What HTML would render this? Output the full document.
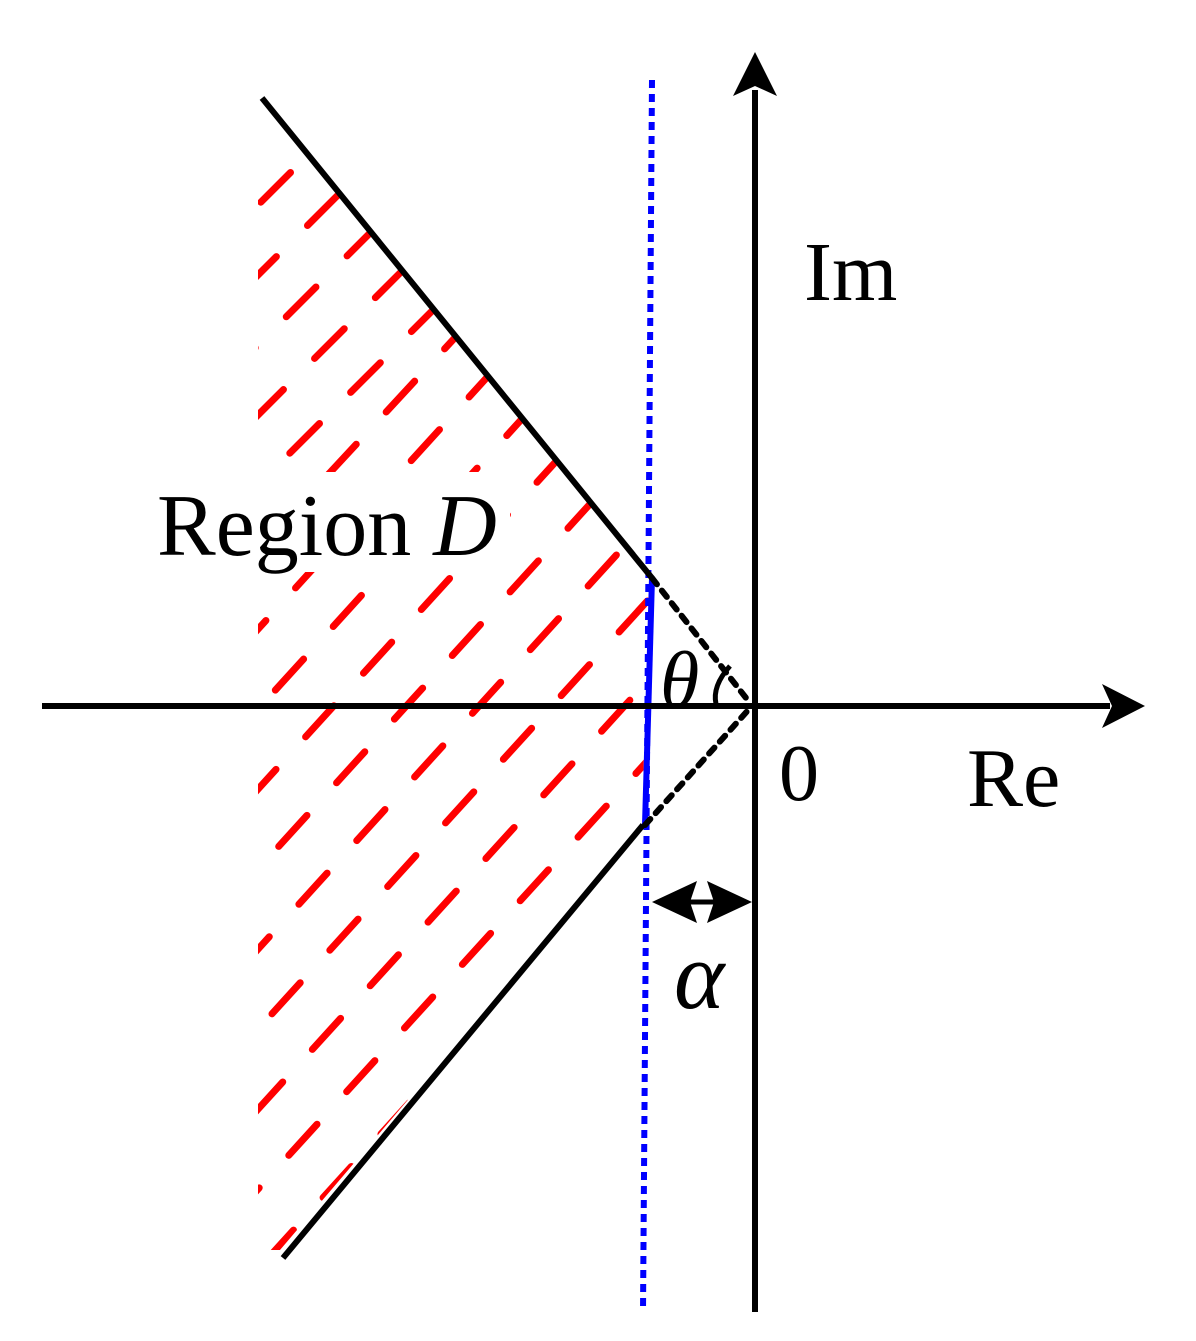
<!DOCTYPE html>
<html><head><meta charset="utf-8"><style>
html,body{margin:0;padding:0;background:#fff;width:1196px;height:1341px;overflow:hidden;}
svg{display:block;overflow:hidden;}
text{font-family:"Liberation Serif","Times New Roman","DejaVu Serif",serif;fill:#000;}
</style></head><body>
<svg width="1196" height="1341" viewBox="0 0 1196 1341" xmlns="http://www.w3.org/2000/svg">
<defs>
<clipPath id="reg">
<polygon points="258,60 262,98 649,578 642,825 280,1250 258,1250"/>
</clipPath>
</defs>
<g clip-path="url(#reg)" stroke="#f00" stroke-width="7" stroke-linecap="round" stroke-dasharray="42 44">
<line x1="200" y1="263" x2="420" y2="43"/>
<line x1="200" y1="333" x2="480" y2="53" stroke-dashoffset="20"/>
<line x1="200" y1="403" x2="540" y2="63" stroke-dashoffset="50"/>
<line x1="200" y1="473" x2="600" y2="73" stroke-dashoffset="10"/>
<line x1="200" y1="543" x2="660" y2="83" stroke-dashoffset="45"/>
<line x1="200" y1="613" x2="700" y2="73" stroke-dashoffset="70"/>
<line x1="200" y1="693" x2="700" y2="143" stroke-dashoffset="30"/>
<line x1="200" y1="773" x2="700" y2="223" stroke-dashoffset="60"/>
<line x1="200" y1="853" x2="700" y2="303" stroke-dashoffset="15"/>
<line x1="200" y1="933" x2="700" y2="383" stroke-dashoffset="55"/>
<line x1="200" y1="1013" x2="700" y2="463" stroke-dashoffset="25"/>
<line x1="200" y1="1093" x2="700" y2="543" stroke-dashoffset="65"/>
<line x1="200" y1="1173" x2="700" y2="623" stroke-dashoffset="5"/>
<line x1="200" y1="1253" x2="700" y2="703" stroke-dashoffset="40"/>
<line x1="200" y1="1333" x2="700" y2="783" stroke-dashoffset="75"/>
<line x1="265" y1="1341" x2="700" y2="863" stroke-dashoffset="20"/>
</g>
<rect x="150" y="472" width="360" height="100" fill="#fff"/>
<line x1="652" y1="80" x2="643" y2="1312" stroke="#00f" stroke-width="6" stroke-dasharray="8 6"/>
<line x1="652" y1="578" x2="645" y2="825" stroke="#00f" stroke-width="6"/>
<line x1="262" y1="98" x2="652" y2="578" stroke="#000" stroke-width="6"/>
<line x1="283" y1="1258" x2="643" y2="825" stroke="#000" stroke-width="6"/>
<line x1="652" y1="578" x2="750" y2="703" stroke="#000" stroke-width="6" stroke-dasharray="8 8" stroke-linecap="round"/>
<line x1="645" y1="825" x2="750" y2="708" stroke="#000" stroke-width="6" stroke-dasharray="8 8" stroke-linecap="round"/>
<line x1="42" y1="706" x2="1110" y2="706" stroke="#000" stroke-width="6"/>
<polygon points="1145,706 1102,684 1112,706 1102,728" fill="#000"/>
<line x1="755" y1="90" x2="755" y2="1312" stroke="#000" stroke-width="6"/>
<polygon points="755,52 733,96 755,86 777,96" fill="#000"/>
<line x1="680" y1="902" x2="725" y2="902" stroke="#000" stroke-width="5"/>
<polygon points="652,902 697,881 690,902 697,923" fill="#000"/>
<polygon points="752,902 707,881 714,902 707,923" fill="#000"/>
<path d="M730,666 Q712,686 716,704" fill="none" stroke="#000" stroke-width="5"/>
<text x="804" y="300" font-size="84">Im</text>
<text x="157" y="555" font-size="88">Region <tspan font-style="italic">D</tspan></text>
<text x="779" y="800" font-size="80">0</text>
<text x="967" y="806" font-size="84">Re</text>
<text x="660" y="707" font-size="80" font-style="italic">θ</text>
<text x="674" y="1008" font-size="96" font-style="italic">α</text>
</svg>
</body></html>
